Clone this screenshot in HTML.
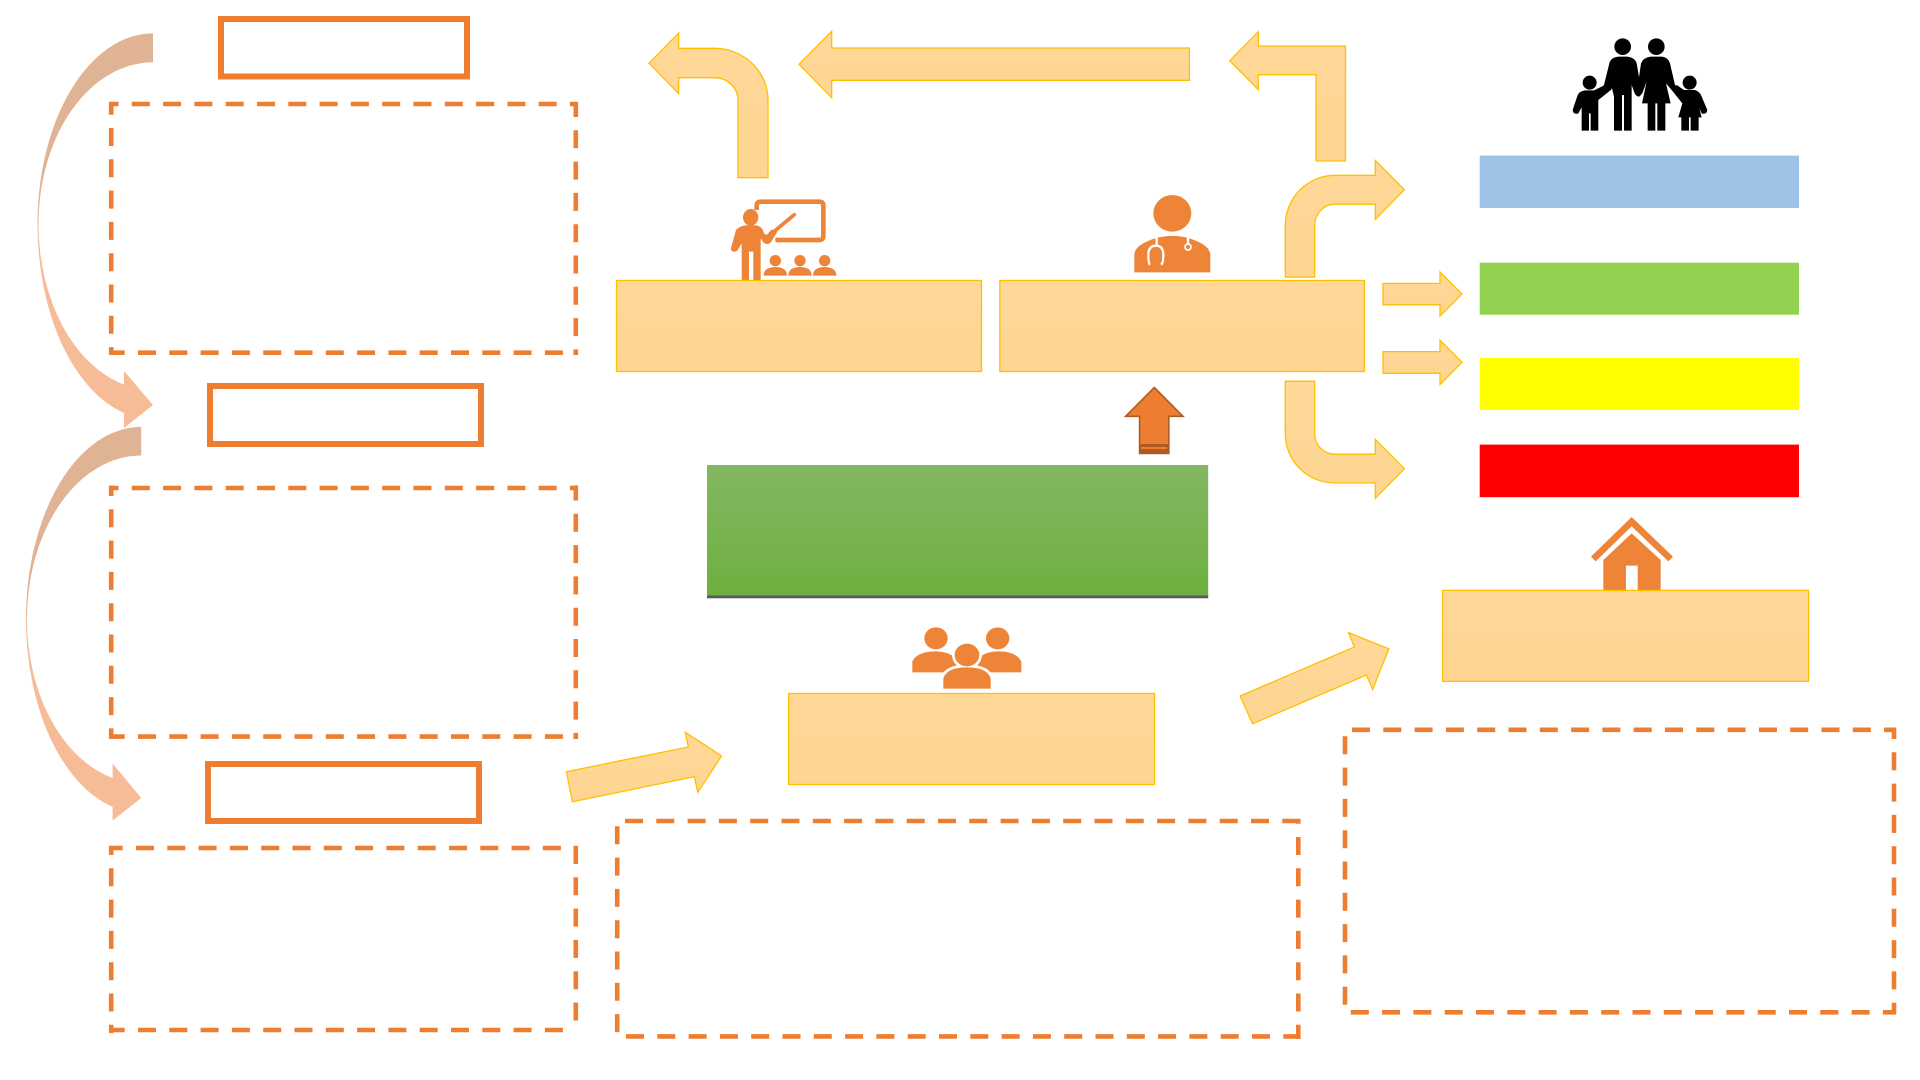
<!DOCTYPE html>
<html lang="en">
<head>
<meta charset="utf-8">
<title>Diagram</title>
<style>
html,body{margin:0;padding:0;background:#fff;width:1920px;height:1080px;overflow:hidden}
svg{display:block}
.p{fill:url(#peach);stroke:#FFC000;stroke-width:1.3}
.s{fill:none;stroke:#ED7D31;stroke-width:6}
.d{fill:none;stroke:#ED7D31;stroke-width:4.6;stroke-dasharray:18 13.3}
.i{fill:#EE8437}
</style>
</head>
<body>
<svg width="1920" height="1080" viewBox="0 0 1920 1080" xmlns="http://www.w3.org/2000/svg">
<defs>
<linearGradient id="peach" x1="0" y1="0" x2="0" y2="1"><stop offset="0" stop-color="#FFD899"/><stop offset="1" stop-color="#FED591"/></linearGradient>
<linearGradient id="green" x1="0" y1="0" x2="0" y2="1"><stop offset="0" stop-color="#83B763"/><stop offset="1" stop-color="#6EB03F"/></linearGradient>
</defs>
<rect width="1920" height="1080" fill="#fff"/>

<!-- curved arrows -->
<path d="M37.5 224A115.5 195 0 0 0 124 413L124 428L153 405L124 371V384.6A114.5 166 0 0 1 38.5 224Z" fill="#F6BC98"/>
<path d="M153 33.4A115.5 190.6 0 0 0 37.5 224L38.5 224A114.5 161.7 0 0 1 153 62.3Z" fill="#DFB394"/>
<path d="M26 619A115.2 194 0 0 0 112.6 806.8V820.6L141.2 798L112.6 763.4V778A114.2 164 0 0 1 27 619Z" fill="#F6BC98"/>
<path d="M141.2 426.9A115.2 192 0 0 0 26 619L27 619A114.2 163.5 0 0 1 141.2 455.5Z" fill="#DFB394"/>

<!-- solid outlined rects -->
<rect class="s" x="221" y="19" width="246" height="57.5"/>
<rect class="s" x="210" y="386" width="271" height="58"/>
<rect class="s" x="208" y="764" width="271" height="57"/>

<!-- dashed box 1 -->
<path class="d" d="M109 104H578" stroke-dashoffset="8.5"/>
<path class="d" d="M111.2 102V355" stroke-dashoffset="5.3"/>
<path class="d" d="M575.8 102V355" stroke-dashoffset="3"/>
<path class="d" d="M109 352.7H578" stroke-dashoffset="2.3"/>
<!-- dashed box 2 -->
<path class="d" d="M109 488H578" stroke-dashoffset="8.5"/>
<path class="d" d="M111.2 485.5V739" stroke-dashoffset="7.5"/>
<path class="d" d="M575.8 485.5V739" stroke-dashoffset="3"/>
<path class="d" d="M109 736.6H578" stroke-dashoffset="2.3"/>
<!-- dashed box 3 -->
<path class="d" d="M109 848H578" stroke-dashoffset="4.3"/>
<path class="d" d="M111.2 846V1033" stroke-dashoffset="9"/>
<path class="d" d="M575.8 846V1033" stroke-dashoffset="0"/>
<path class="d" d="M109 1030H572" stroke-dashoffset="2.3"/>
<!-- dashed box mid -->
<path class="d" d="M615 821H1300" stroke-dashoffset="21.3"/>
<path class="d" d="M617.2 819V1039" stroke-dashoffset="24"/>
<path class="d" d="M1298.3 819V1039" stroke-dashoffset="13.3"/>
<path class="d" d="M615 1036.4H1300" stroke-dashoffset="20.3"/>
<!-- dashed box right -->
<path class="d" d="M1343 729.8H1896" stroke-dashoffset="22.3"/>
<path class="d" d="M1345 728V1014" stroke-dashoffset="23"/>
<path class="d" d="M1894 728V1014" stroke-dashoffset="7"/>
<path class="d" d="M1343 1012.3H1896" stroke-dashoffset="23.5"/>

<!-- peach arrows -->
<path class="p" d="M649 63.3L678.7 33V48.3H714.4A53.6 51.7 0 0 1 768 100V177.7H737.9V100A23.5 22.3 0 0 0 714.4 77.7H678.7V93.7Z"/>
<path class="p" d="M799 64.3L831.7 31.3V48H1189.4V80.3H831.7V97.7Z"/>
<path class="p" d="M1229.7 60.7L1258.3 31.7V46H1345.5V161H1316V74.7H1258.3V89.7Z"/>
<path class="p" d="M1404.4 189.7L1375.3 160.5V175.3H1335A49.7 50.2 0 0 0 1285.3 225.5V277.2H1314.7V225.5A20.3 21.3 0 0 1 1335 204.2H1375.3V219.4Z"/>
<path class="p" d="M1404.4 468.7L1375.3 439.4V454.2H1335A20.3 20.3 0 0 1 1314.7 433.9V381.2H1285.3V433.9A49.7 49.1 0 0 0 1335 483H1375.3V498.3Z"/>
<path class="p" d="M1383 283.4H1440V272L1462 294L1440 316V304.8H1383Z"/>
<path class="p" d="M1383 351.6H1440V340.2L1462 362.3L1440 384.6V373.3H1383Z"/>
<path class="p" d="M1240.1 696L1354.4 647L1348.6 632.6L1388.8 648.8L1372.7 689.4L1366.4 675L1252.6 723.8Z"/>
<path class="p" d="M566.4 771.7L688.3 747L685.3 732.3L721.6 756L697.8 792.3L694.3 776.7L572.4 801.7Z"/>

<!-- icons drawn under boxes -->
<g transform="translate(700 180) scale(.3333)">
<path d="M170 90V77Q170 65 182 65H358Q370 65 370 77V168Q370 180 358 180H226" fill="none" stroke="#EE8437" stroke-width="14"/>
<path d="M225 152L283 104" stroke="#EE8437" stroke-width="11" stroke-linecap="round"/>
<ellipse class="i" cx="152" cy="112" rx="23" ry="25"/>
<path class="i" d="M108 150Q115 140 135 136H170Q188 140 192 160L200 165L215 148L232 155L214 185Q205 198 190 187L182 175V300H160V215H147V300H125V190L112 212Q100 220 92 208Z"/>
<circle class="i" cx="226" cy="242" r="17"/><circle class="i" cx="300" cy="242" r="17"/><circle class="i" cx="374" cy="242" r="17"/>
<path class="i" d="M191 287Q191 268 211 263Q226 258 241 263Q261 268 261 287Z"/>
<path class="i" d="M265 287Q265 268 285 263Q300 258 315 263Q335 268 335 287Z"/>
<path class="i" d="M339 287Q339 268 359 263Q374 258 389 263Q409 268 409 287Z"/>
</g>
<g transform="translate(1100 180) scale(.3333)">
<ellipse class="i" cx="217" cy="100" rx="57" ry="55"/>
<path class="i" d="M103 277V225Q103 195 165 175Q217 160 268 175Q331 195 331 225V277Z"/>
<path d="M170 172V195M150 254Q145 250 145 225Q145 197 168 197Q190 197 190 225Q190 250 183 254M264 172V190" fill="none" stroke="#fff" stroke-width="7"/>
<circle cx="264" cy="201" r="9" fill="none" stroke="#fff" stroke-width="5"/>
</g>
<g transform="translate(890 610) scale(.3333)">
<ellipse class="i" cx="138" cy="85" rx="35" ry="33"/>
<ellipse class="i" cx="323" cy="85" rx="35" ry="33"/>
<path class="i" d="M67 187V155Q80 124 138 124Q170 124 195 142L205 187Z"/>
<path class="i" d="M394 187V155Q380 124 323 124Q291 124 268 142L258 187Z"/>
<ellipse cx="231" cy="135" rx="45" ry="42" fill="#fff"/>
<path d="M160 250V205Q170 172 231 172Q292 172 302 205V250Z" fill="#fff" stroke="#fff" stroke-width="16"/>
<ellipse class="i" cx="231" cy="135" rx="37" ry="34"/>
<path class="i" d="M160 236V205Q170 172 231 172Q292 172 302 205V236Z"/>
</g>
<g transform="translate(1570 505) scale(.3333)">
<path d="M70 162L185 50L302 162" fill="none" stroke="#EE8437" stroke-width="20"/>
<path class="i" d="M100 165L185 85L272 165V255H100Z"/>
<rect x="168" y="182" width="35" height="73" fill="#fff"/>
</g>
<g transform="translate(1540 20) scale(.3333)" fill="#000">
<circle cx="248" cy="80" r="25"/><circle cx="349" cy="80" r="25"/>
<circle cx="149" cy="188" r="21"/><circle cx="449" cy="188" r="21"/>
<path d="M222 332V230L216 205L172 240Q160 232 165 220L192 195L208 130Q212 113 235 110H262Q285 113 290 130L303 205Q308 225 297 230Q288 230 283 218L275 195V332H252V225H246V332Z"/>
<path d="M323 332V250H306L320 185L305 225L296 180L303 130Q310 113 332 110H366Q385 113 390 130L405 195L432 215L425 238L395 210L378 190L392 250H376V332H352V250H346V332Z"/>
<path d="M125 332V262L115 280Q100 285 98 270L112 228Q116 214 135 211H162L195 195L215 208L175 240V332H152V280H147V332Z"/>
<path d="M424 332V292H415L427 250L395 210L410 195L432 210H465Q480 215 485 230L502 270Q500 285 485 280L478 265L485 292H476V332H452V292H447V332Z"/>
</g>

<!-- peach boxes -->
<rect class="p" x="616.5" y="280.5" width="365" height="91"/>
<rect class="p" x="999.8" y="280.5" width="364.6" height="91"/>
<rect class="p" x="788.6" y="693.5" width="366" height="91"/>
<rect class="p" x="1442.6" y="590.4" width="366" height="91"/>

<!-- green box -->
<rect x="707" y="465" width="501.2" height="130.5" fill="url(#green)"/>
<rect x="707" y="595.5" width="501.2" height="2.8" fill="#595959"/>

<!-- up arrow -->
<path d="M1154.3 387.5L1183 416.3H1168.8V453.5H1139.6V416.3H1125.6Z" fill="#ED7D31" stroke="#AE5A21" stroke-width="1.6"/>
<rect x="1139" y="444" width="30.2" height="10" fill="#AE5A21"/>
<rect x="1141" y="447" width="26" height="2" fill="#ED7D31"/>

<!-- colour bars -->
<rect x="1479.7" y="155.6" width="319.3" height="52.4" fill="#9DC3E6"/>
<rect x="1479.7" y="262.7" width="319.3" height="52" fill="#92D050"/>
<rect x="1479.7" y="358" width="319.3" height="52" fill="#FFFF00"/>
<rect x="1479.7" y="444.6" width="319.3" height="52.6" fill="#FF0000"/>
</svg>
</body>
</html>
